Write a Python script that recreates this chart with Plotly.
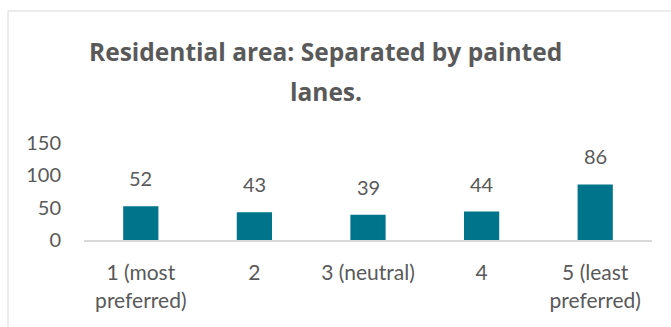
import plotly.graph_objects as go

# Survey responses: preference ranking for painted-lane separation in residential areas
categories = ["1 (most<br>preferred)", "2", "3 (neutral)", "4", "5 (least<br>preferred)"]
counts = [52, 43, 39, 44, 86]
y_ticks = [0, 50, 100, 150]
title_lines = ["Residential area: Separated by painted", "lanes."]

BAR_COLOR = "#00748A"
TEXT_COLOR = "#595959"
LINE_COLOR = "#D9D9D9"
FONT = "Lato"

fig = go.Figure(
    go.Bar(
        x=categories,
        y=counts,
        marker=dict(color=BAR_COLOR, line=dict(width=0)),
        width=0.31,
        hoverinfo="x+y",
    )
)

# value labels above each bar (x given as category index)
for i, val in enumerate(counts):
    fig.add_annotation(
        x=i, y=val, text=str(val), showarrow=False,
        yanchor="bottom", yshift=14,
        font=dict(family=FONT, size=20, color=TEXT_COLOR),
    )

# two-line chart title, each line placed separately for wider line spacing
for line, ypos in zip(title_lines, [1.94, 1.535]):
    fig.add_annotation(
        text=line, xref="paper", yref="paper", x=0.426, y=ypos,
        xanchor="center", yanchor="middle", showarrow=False,
        font=dict(family="Open Sans", size=24.5, color=TEXT_COLOR, weight="bold"),
    )

# chart-area border (open at right and bottom edges of the page)
fig.add_shape(
    type="rect", xref="paper", yref="paper",
    x0=-0.1338, x1=2.0, y0=-2.0, y1=2.3608,
    line=dict(color=LINE_COLOR, width=1), fillcolor="rgba(0,0,0,0)",
    layer="below",
)

fig.update_layout(
    width=671, height=327,
    margin=dict(l=84, r=19, t=143, b=87),
    paper_bgcolor="white", plot_bgcolor="white",
    showlegend=False,
    font=dict(family=FONT, size=20, color=TEXT_COLOR),
)

fig.update_xaxes(
    type="category",
    showline=True, linecolor=LINE_COLOR, linewidth=2,
    showgrid=False, ticks="", ticklabelstandoff=13,
    tickfont=dict(family=FONT, size=21, color=TEXT_COLOR),
    fixedrange=True,
)
fig.update_yaxes(
    range=[0, 150], tickvals=y_ticks, showgrid=False, zeroline=False,
    showline=False, ticks="", ticklabelstandoff=22,
    tickfont=dict(family=FONT, size=20, color=TEXT_COLOR),
    fixedrange=True,
)

fig.write_html("out.html")
